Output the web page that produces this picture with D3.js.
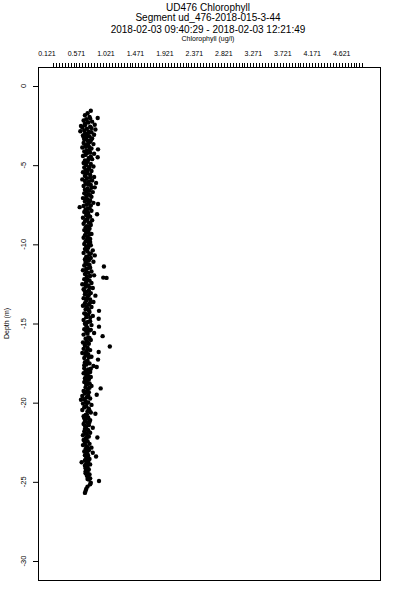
<!DOCTYPE html>
<html><head><meta charset="utf-8">
<script src="https://cdn.jsdelivr.net/npm/d3@7"></script>
<style>body{margin:0;background:#fff}svg{display:block}text{font-family:"Liberation Sans",Arial,sans-serif;fill:#000}</style>
</head><body>
<script>
const titleLines = ["UD476 Chlorophyll", "Segment ud_476-2018-015-3-44", "2018-02-03 09:40:29 - 2018-02-03 12:21:49"];
const xLabel = "Chlorophyll (ug/l)";
const yLabel = "Depth (m)";
const xTickLabels = ["0.121","0.571","1.021","1.471","1.921","2.371","2.821","3.271","3.721","4.171","4.621"];
const xTickValues = [0.121,0.571,1.021,1.471,1.921,2.371,2.821,3.271,3.721,4.171,4.621];
const yTickValues = [0,-5,-10,-15,-20,-25,-30];

const depth = [-1.56,-1.72,-1.85,-1.95,-2.02,-2.10,-2.18,-2.25,-2.31,-2.38,-2.45,-2.52,-2.57,-2.63,-2.70,-2.75,-2.81,-2.86,-2.92,-2.97,-3.02,-3.08,-3.13,-3.19,-3.25,-3.31,-3.38,-3.45,-3.52,-3.60,-3.67,-3.74,-3.81,-3.88,-3.95,-4.00,-4.07,-4.14,-4.21,-4.28,-4.35,-4.42,-4.50,-4.55,-4.62,-4.70,-4.78,-4.86,-4.93,-5.00,-5.08,-5.15,-5.22,-5.30,-5.37,-5.45,-5.52,-5.60,-5.68,-5.75,-5.83,-5.90,-5.97,-6.05,-6.12,-6.18,-6.25,-6.32,-6.40,-6.47,-6.55,-6.62,-6.70,-6.78,-6.86,-6.93,-7.00,-7.08,-7.15,-7.23,-7.30,-7.38,-7.45,-7.50,-7.58,-7.65,-7.72,-7.80,-7.88,-7.95,-8.02,-8.10,-8.17,-8.25,-8.32,-8.40,-8.48,-8.55,-8.63,-8.70,-8.78,-8.86,-8.94,-9.02,-9.10,-9.18,-9.26,-9.34,-9.42,-9.50,-9.58,-9.66,-9.74,-9.82,-9.90,-9.98,-10.06,-10.14,-10.22,-10.30,-10.38,-10.46,-10.54,-10.62,-10.70,-10.78,-10.86,-10.94,-11.02,-11.10,-11.18,-11.26,-11.34,-11.40,-11.48,-11.56,-11.64,-11.72,-11.80,-11.88,-11.96,-12.04,-12.10,-12.12,-12.20,-12.28,-12.36,-12.44,-12.52,-12.60,-12.68,-12.76,-12.84,-12.92,-13.00,-13.08,-13.16,-13.24,-13.32,-13.40,-13.48,-13.56,-13.64,-13.72,-13.80,-13.88,-13.96,-14.04,-14.12,-14.20,-14.28,-14.36,-14.44,-14.52,-14.60,-14.70,-14.78,-14.86,-14.94,-15.02,-15.10,-15.20,-15.28,-15.36,-15.44,-15.52,-15.60,-15.70,-15.80,-15.88,-15.96,-16.04,-16.12,-16.20,-16.28,-16.36,-16.45,-16.52,-16.60,-16.68,-16.76,-16.80,-16.86,-16.94,-17.02,-17.10,-17.18,-17.28,-17.36,-17.44,-17.52,-17.60,-17.68,-17.75,-17.82,-17.90,-17.98,-18.06,-18.14,-18.22,-18.30,-18.38,-18.46,-18.54,-18.62,-18.70,-18.78,-18.86,-18.94,-19.02,-19.10,-19.18,-19.26,-19.34,-19.42,-19.50,-19.58,-19.66,-19.74,-19.82,-19.90,-19.98,-20.06,-20.14,-20.22,-20.30,-20.38,-20.46,-20.54,-20.62,-20.70,-20.78,-20.86,-20.94,-21.02,-21.10,-21.18,-21.26,-21.34,-21.42,-21.50,-21.58,-21.66,-21.74,-21.82,-21.90,-21.98,-22.06,-22.14,-22.20,-22.28,-22.36,-22.44,-22.52,-22.60,-22.68,-22.76,-22.84,-22.92,-23.00,-23.08,-23.16,-23.24,-23.32,-23.40,-23.48,-23.56,-23.64,-23.72,-23.76,-23.82,-23.90,-23.98,-24.06,-24.14,-24.22,-24.30,-24.38,-24.46,-24.54,-24.62,-24.70,-24.78,-24.86,-24.95,-25.05,-25.15,-25.30,-25.45,-25.58,-25.70];
const chl = [0.79,0.74,0.70,0.77,0.895,0.72,0.68,0.81,0.75,0.70,0.85,0.64,0.78,0.66,0.73,0.86,0.69,0.63,0.80,0.75,0.70,0.84,0.67,0.77,0.72,0.81,0.69,0.74,0.78,0.68,0.83,0.71,0.76,0.66,0.80,0.90,0.73,0.69,0.78,0.84,0.71,0.67,0.895,0.76,0.81,0.70,0.74,0.68,0.79,0.72,0.83,0.69,0.76,0.71,0.80,0.67,0.74,0.78,0.70,0.84,0.73,0.66,0.81,0.76,0.87,0.71,0.79,0.68,0.85,0.74,0.70,0.77,0.82,0.69,0.75,0.72,0.80,0.67,0.74,0.78,0.70,0.83,0.90,0.73,0.68,0.62,0.77,0.71,0.80,0.69,0.75,0.885,0.72,0.78,0.67,0.74,0.81,0.70,0.76,0.68,0.79,0.73,0.71,0.77,0.69,0.75,0.72,0.80,0.70,0.74,0.68,0.78,0.73,0.71,0.76,0.69,0.79,0.72,0.75,0.70,0.82,0.74,0.68,0.77,0.85,0.72,0.79,0.70,0.76,0.83,0.71,0.74,0.69,0.99,0.78,0.72,0.67,0.80,0.75,0.70,0.84,0.73,0.98,1.03,0.69,0.77,0.72,0.80,0.66,0.75,0.71,0.82,0.68,0.76,0.73,0.79,0.70,0.86,0.74,0.68,0.78,0.72,0.83,0.70,0.76,0.67,0.80,0.74,0.71,0.915,0.77,0.69,0.75,0.82,0.72,0.91,0.68,0.78,0.73,0.70,0.80,0.915,0.74,0.69,0.77,0.72,0.84,0.68,0.97,0.75,0.71,0.79,0.73,0.67,0.76,0.70,1.08,0.74,0.68,0.78,0.72,0.91,0.66,0.75,0.71,0.80,0.69,0.90,0.74,0.70,0.77,0.72,0.83,0.88,0.69,0.75,0.71,0.78,0.68,0.74,0.72,0.79,0.70,0.76,0.73,0.69,0.77,0.72,0.80,0.71,0.94,0.74,0.68,0.76,0.70,0.88,0.66,0.73,0.78,0.64,0.71,0.75,0.67,0.80,0.72,0.69,0.76,0.66,0.74,0.79,0.86,0.71,0.68,0.75,0.73,0.78,0.70,0.74,0.68,0.76,0.72,0.82,0.70,0.75,0.69,0.78,0.73,0.67,0.76,0.89,0.71,0.68,0.74,0.70,0.77,0.67,0.73,0.80,0.71,0.76,0.69,0.82,0.74,0.70,0.87,0.72,0.77,0.70,0.75,0.65,0.72,0.78,0.70,0.74,0.71,0.76,0.72,0.74,0.71,0.77,0.73,0.75,0.78,0.76,0.915,0.79,0.78,0.74,0.72,0.71,0.70];

// second pass of samples (same cast, interleaved)
const depth2 = [-2.05,-2.28,-2.48,-2.66,-2.88,-3.05,-3.22,-3.42,-3.63,-3.84,-4.03,-4.24,-4.46,-4.66,-4.90,-5.12,-5.34,-5.56,-5.79,-6.00,-6.22,-6.43,-6.66,-6.90,-7.12,-7.34,-7.55,-7.77,-8.00,-8.21,-8.44,-8.66,-8.90,-9.14,-9.38,-9.62,-9.86,-10.10,-10.34,-10.58,-10.82,-11.06,-11.30,-11.52,-11.76,-12.00,-12.24,-12.48,-12.72,-12.96,-13.20,-13.44,-13.68,-13.92,-14.16,-14.40,-14.64,-14.90,-15.14,-15.40,-15.64,-15.92,-16.16,-16.40,-16.64,-16.90,-17.14,-17.40,-17.64,-17.86,-18.10,-18.34,-18.58,-18.82,-19.06,-19.30,-19.54,-19.78,-20.02,-20.26,-20.50,-20.74,-20.98,-21.22,-21.46,-21.70,-21.94,-22.18,-22.40,-22.64,-22.88,-23.12,-23.36,-23.60,-23.86,-24.10,-24.34,-24.58,-24.82];
const chl2 = [0.78,0.74,0.70,0.80,0.76,0.73,0.68,0.79,0.75,0.71,0.77,0.73,0.79,0.75,0.72,0.77,0.74,0.71,0.78,0.70,0.75,0.80,0.73,0.78,0.71,0.76,0.79,0.74,0.71,0.76,0.72,0.78,0.75,0.72,0.77,0.74,0.78,0.75,0.72,0.79,0.74,0.71,0.77,0.74,0.72,0.78,0.74,0.71,0.77,0.70,0.76,0.73,0.78,0.72,0.76,0.71,0.78,0.75,0.72,0.79,0.74,0.77,0.73,0.70,0.74,0.71,0.76,0.73,0.69,0.79,0.73,0.76,0.71,0.74,0.77,0.72,0.75,0.69,0.73,0.70,0.77,0.73,0.69,0.77,0.70,0.73,0.71,0.73,0.72,0.70,0.75,0.72,0.75,0.73,0.75,0.73,0.71,0.75,0.74];

const W = 400, H = 600;
const box = {left: 38, right: 380, top: 67, bottom: 580};
const svg = d3.select("body").append("svg").attr("width", W).attr("height", H);

const x = d3.scaleLinear().domain([-0.0164, 5.205]).range([box.left, box.right]);
const y = d3.scaleLinear().domain([1.2, -31.2]).range([box.top, box.bottom]);

// titles
const tY = [10.5, 20.5, 32.5];
titleLines.forEach((t, i) => {
  svg.append("text").attr("x", 208).attr("y", tY[i]).attr("text-anchor", "middle")
    .attr("font-size", "10px").text(t);
});
svg.append("text").attr("x", 208).attr("y", 40.5).attr("text-anchor", "middle")
  .attr("font-size", "7px").text(xLabel);

// top axis minor ticks
const minorTicks = d3.range(0.211, 4.95, 0.045);
svg.append("g").selectAll("line").data(minorTicks).join("line")
  .attr("x1", d => Math.round(x(d)) + 0.5).attr("x2", d => Math.round(x(d)) + 0.5)
  .attr("y1", 63).attr("y2", box.top).attr("stroke", "#000").attr("stroke-width", 1);
svg.append("g").selectAll("text").data(xTickValues).join("text")
  .attr("x", d => x(d)).attr("y", 55.5).attr("text-anchor", "middle")
  .attr("font-size", "7px").text((d, i) => xTickLabels[i]);

// left axis
const yAxis = d3.axisLeft(y).tickValues(yTickValues).tickSize(5).tickFormat("");
const ga = svg.append("g").attr("transform", `translate(${box.left},0)`).call(yAxis);
ga.select(".domain").remove();
ga.selectAll("line").attr("stroke", "#000");
svg.append("g").selectAll("text").data(yTickValues).join("text")
  .attr("transform", d => `translate(25.5,${y(d)}) rotate(-90)`)
  .attr("text-anchor", "middle").attr("font-size", "7.5px").text(d => d === 0 ? "0" : "-" + Math.abs(d));
svg.append("text").attr("transform", `translate(8.5,${(box.top + box.bottom) / 2}) rotate(-90)`)
  .attr("text-anchor", "middle").attr("font-size", "7px").text(yLabel);

// box
svg.append("rect").attr("x", box.left + 0.5).attr("y", box.top + 0.5)
  .attr("width", box.right - box.left).attr("height", box.bottom - box.top)
  .attr("fill", "none").attr("stroke", "#000").attr("stroke-width", 1);

// points
const pts = depth.map((d, i) => ({d, c: chl[i]})).concat(depth2.map((d, i) => ({d, c: chl2[i]})));
svg.append("g").selectAll("circle").data(pts).join("circle")
  .attr("cx", p => x(p.c)).attr("cy", p => y(p.d)).attr("r", 2.2).attr("fill", "#000");
</script>
</body></html>
